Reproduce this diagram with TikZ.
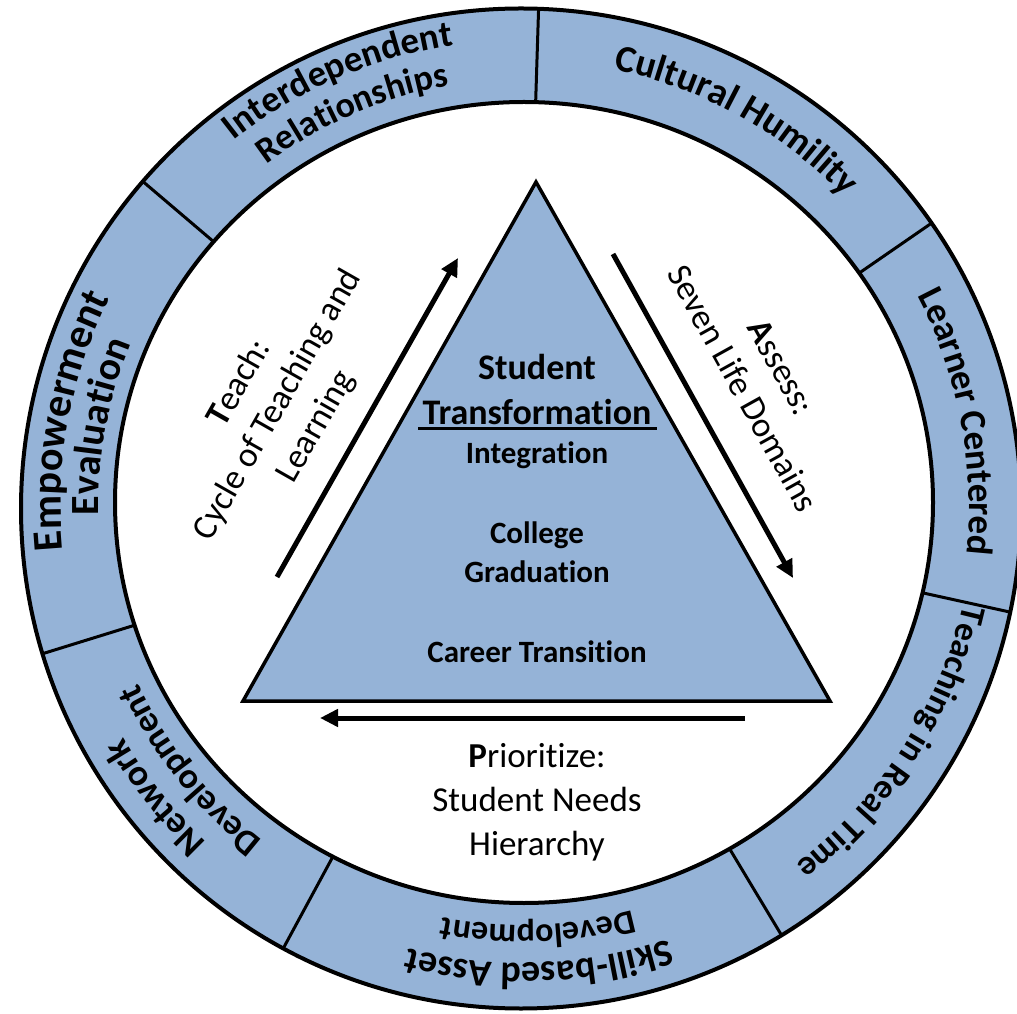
\documentclass[tikz,border=0pt]{standalone}
\usepackage{fontspec}
\setmainfont{Carlito}[Ligatures={NoCommon,NoContextual,NoRequired},Contextuals=NoAlternate]
\usetikzlibrary{arrows.meta,decorations.text,calc}
\definecolor{ringblue}{HTML}{95B3D7}
\newcommand\ringarc[4]{%
  \path[decorate,decoration={text along path,text align=center,
    text={|\bfseries\fontsize{#3}{#3}\selectfont|#4}}]
    ([shift={(#1+90:#2)}]O) arc[start angle=#1+90,end angle=#1-90,radius=#2];}
\begin{document}
\begin{tikzpicture}[x=1pt,y=1pt,
  flow/.style={line width=5pt,-{Triangle[length=18pt,width=17pt]}},
  lbl/.style={font=\fontsize{35}{44}\selectfont,align=center,inner sep=0pt},
  tribig/.style={font=\bfseries\fontsize{36}{40}\selectfont,inner sep=0pt},
  trismall/.style={font=\bfseries\fontsize{31}{36}\selectfont,inner sep=0pt},
  divider/.style={line width=3pt},
  border/.style={line width=4pt}]
\useasboundingbox (0,0) rectangle (1017,1013);
\coordinate (O) at (523,508);
\coordinate (OC) at (521,504.5);
\coordinate (IC) at (524,510.5);
% ring
\fill[ringblue] (OC) circle[radius=500];
\begin{scope}
  \clip (OC) circle[radius=500];
  \foreach \a in {34.6,88.2,139.6,197.2,241.6,301.0,347.6}
    \draw[divider] ([shift={(\a:380)}]O) -- ([shift={(\a:520)}]O);
\end{scope}
\filldraw[fill=white,border] (IC) ellipse[x radius=409,y radius=400.5];
\draw[border] (OC) circle[radius=500];
% ring labels
\ringarc{113.5}{465}{37}{Interdependent}
\ringarc{113.5}{426}{36}{Relationships}
\ringarc{61}{445}{38}{Cultural Humility}
\ringarc{10.8}{446}{37}{Learner Centered}
\ringarc{-32.8}{451}{35}{Teaching in Real Time}
\ringarc{-88}{458}{38}{Skill-based Asset}
\ringarc{-88}{420}{34}{Development}
\ringarc{-141.5}{462}{37}{Network}
\ringarc{-141.5}{424}{36}{Development}
\ringarc{169.5}{462}{42}{Empowerment}
\ringarc{169.5}{424}{40}{Evaluation}
% triangle
\coordinate (apex) at (536,831);
\coordinate (bl) at (243,312);
\coordinate (br) at (830,312);
\draw[fill=ringblue,line width=3.5pt,line join=miter] (apex) -- (bl) -- (br) -- cycle;
\node[tribig] (student) at (537,646) {Student};
\node[tribig] (transf) at (537,601) {Transformation};
\coordinate (ulL) at (418,584);
\coordinate (ulR) at (657,584);
\draw[line width=3pt] (ulL) -- (ulR);
\node[trismall] (integ) at (537,558) {Integration};
\node[trismall] (college) at (537,478) {College};
\node[trismall] (grad) at (537,441) {Graduation};
\node[trismall] (career) at (537,361) {Career Transition};
% arrows
\coordinate (teachS) at (277,436);
\coordinate (teachE) at (458,755);
\coordinate (assessS) at (613,759);
\coordinate (assessE) at (793,435);
\coordinate (prioS) at (745,295);
\coordinate (prioE) at (320,295);
\draw[flow] (teachS) -- (teachE);
\draw[flow] (assessS) -- (assessE);
\draw[flow] (prioS) -- (prioE);
% arrow labels
\node[lbl,rotate=60.4] (teach) at (278,608) {\textbf{T}each:\\Cycle of Teaching and\\Learning};
\node[lbl,rotate=-61] (assess) at (762,635) {\textbf{A}ssess:\\Seven Life Domains};
\node[lbl] (prio) at (537,211) {\textbf{P}rioritize:\\Student Needs\\Hierarchy};
\end{tikzpicture}
\end{document}
